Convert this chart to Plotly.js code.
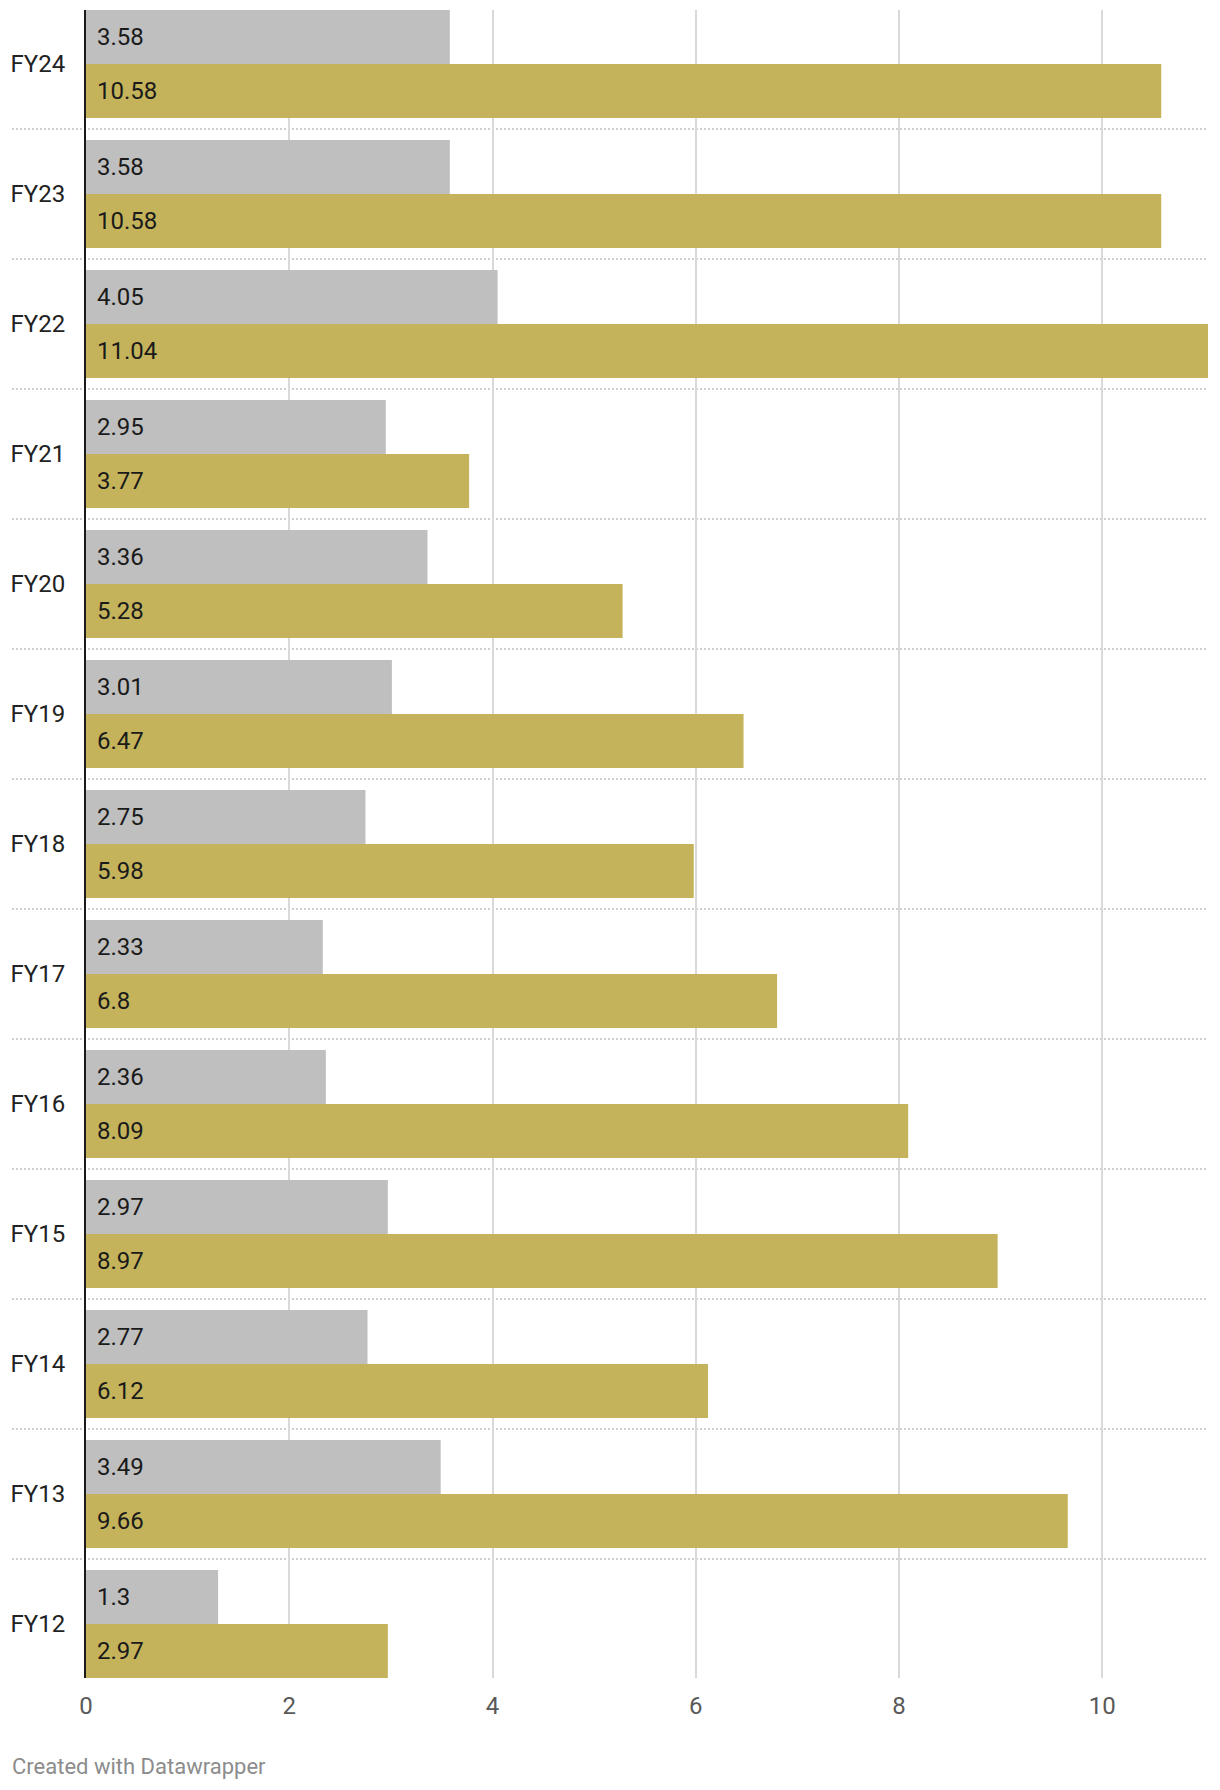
<!DOCTYPE html>
<html>
<head>
<meta charset="utf-8">
<script src="https://cdn.plot.ly/plotly-3.0.1.min.js"></script>
<style>
  html, body { margin: 0; padding: 0; background: #fff; }
  #chart { width: 1220px; height: 1790px; }
</style>
</head>
<body>
<div id="chart"></div>
<script>
// categories, bottom to top
const years = ['FY12', 'FY13', 'FY14', 'FY15', 'FY16', 'FY17', 'FY18', 'FY19', 'FY20', 'FY21', 'FY22', 'FY23', 'FY24'];
const greyValues = [1.3, 3.49, 2.77, 2.97, 2.36, 2.33, 2.75, 3.01, 3.36, 2.95, 4.05, 3.58, 3.58];
const goldValues = [2.97, 9.66, 6.12, 8.97, 8.09, 6.8, 5.98, 6.47, 5.28, 3.77, 11.04, 10.58, 10.58];
const xTicks = [0, 2, 4, 6, 8, 10];

const FONT = 'Roboto, "Noto Sans", sans-serif';
const GREY = '#bfbfbf';
const GOLD = '#c4b35a';

// gold first so it sits below the grey bar in each group
const goldTrace = {
    type: 'bar',
    orientation: 'h',
    y: years,
    x: goldValues,
    marker: { color: GOLD },
    hoverinfo: 'skip'
};
const greyTrace = {
    type: 'bar',
    orientation: 'h',
    y: years,
    x: greyValues,
    marker: { color: GREY },
    hoverinfo: 'skip'
};

// value labels at the start of each bar
const annotations = [];
years.forEach(function (yr, i) {
    annotations.push({
        x: 0, y: yr, xref: 'x', yref: 'y',
        text: String(greyValues[i]),
        showarrow: false, xanchor: 'left', yanchor: 'middle',
        xshift: 9, yshift: 27,
        font: { family: FONT, size: 24, color: '#1a1a1a' }
    });
    annotations.push({
        x: 0, y: yr, xref: 'x', yref: 'y',
        text: String(goldValues[i]),
        showarrow: false, xanchor: 'left', yanchor: 'middle',
        xshift: 9, yshift: -27,
        font: { family: FONT, size: 24, color: '#1a1a1a' }
    });
});

// footer credit
annotations.push({
    x: -76 / 1122, y: -89 / 1668, xref: 'paper', yref: 'paper',
    text: 'Created with Datawrapper',
    showarrow: false, xanchor: 'left', yanchor: 'middle',
    font: { family: FONT, size: 22, color: '#8c8c8c' }
});

// dotted separators between year groups
const shapes = [];
for (let i = 0; i < years.length - 1; i++) {
    shapes.push({
        type: 'line', layer: 'below',
        xref: 'paper', yref: 'y',
        x0: -74 / 1122, x1: 1,
        y0: i + 0.5, y1: i + 0.5,
        line: { color: '#cfcfcf', width: 2, dash: '2px,2px' }
    });
}

const edge = 11 / 130;

const layout = {
    width: 1220,
    height: 1790,
    margin: { l: 86, r: 12, t: 10, b: 112 },
    paper_bgcolor: '#fff',
    plot_bgcolor: '#fff',
    barmode: 'group',
    bargap: 22 / 130,
    bargroupgap: 0,
    showlegend: false,
    font: { family: FONT, size: 24, color: '#222' },
    xaxis: {
        range: [0, 11.04],
        tickvals: xTicks,
        ticktext: xTicks.map(String),
        showgrid: true,
        gridcolor: '#d9d9d9',
        gridwidth: 2,
        zeroline: false,
        showline: false,
        ticks: 'outside',
        ticklen: 6,
        tickcolor: 'rgba(0,0,0,0)',
        tickfont: { family: FONT, size: 24, color: '#595959' },
        fixedrange: true
    },
    yaxis: {
        type: 'category',
        categoryorder: 'array',
        categoryarray: years,
        range: [-0.5 + edge, years.length - 0.5 - edge],
        showgrid: false,
        zeroline: false,
        showline: true,
        linecolor: '#1a1a1a',
        linewidth: 2,
        ticks: 'outside',
        ticklen: 14,
        tickcolor: 'rgba(0,0,0,0)',
        tickfont: { family: FONT, size: 24, color: '#222' },
        fixedrange: true
    },
    shapes: shapes,
    annotations: annotations
};

Plotly.newPlot('chart', [goldTrace, greyTrace], layout, { displayModeBar: false, staticPlot: true });
</script>
</body>
</html>
